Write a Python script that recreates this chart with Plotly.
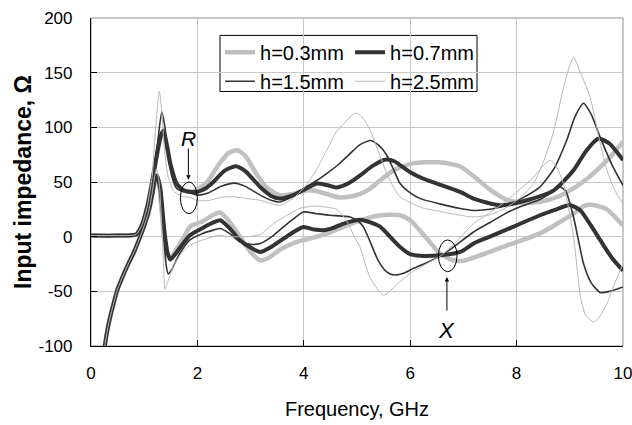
import plotly.graph_objects as go

# ---------------- data ----------------
# h = 0.3 mm
f03_R = [0, 0.5, 0.85, 0.95, 1.05, 1.15, 1.25, 1.33, 1.38, 1.44, 1.5, 1.6, 1.7, 1.85, 2.0, 2.2, 2.4, 2.6, 2.75, 2.9, 3.1, 3.3, 3.55, 3.8, 4.0, 4.2, 4.43, 4.65, 4.85, 5.05, 5.25, 5.45, 5.7, 6.05, 6.55, 6.95, 7.2, 7.5, 7.8, 8.1, 8.45, 8.8, 9.1, 9.35, 9.6, 9.8, 10]
R03 = [1, 1, 2, 10, 26, 50, 78, 92, 93, 80, 64, 49, 43, 41, 43, 51, 66, 77, 79, 74, 58, 45, 38, 39, 42, 42, 39, 36, 36.5, 39, 44, 52, 61, 67, 68, 64, 55, 43, 34, 31, 32, 37, 45, 54, 65, 75, 87]
f03_X = [0.2, 0.26, 0.33, 0.42, 0.5, 0.6, 0.7, 0.8, 0.9, 1.0, 1.08, 1.15, 1.2, 1.24, 1.29, 1.36, 1.42, 1.5, 1.6, 1.75, 1.86, 2.1, 2.3, 2.43, 2.6, 2.8, 3.0, 3.18, 3.35, 3.55, 3.8, 4.0, 4.25, 4.5, 4.75, 5.06, 5.44, 5.81, 6.0, 6.31, 6.56, 6.81, 7.0, 7.32, 7.82, 8.44, 9.07, 9.26, 9.44, 9.7, 10]
X03 = [-135, -100, -80, -62, -48, -36, -25, -15, -3, 10, 22, 38, 50, 54, 44, 5, -15, -19, -12, 0, 9, 14, 20, 22, 14, 0, -14, -21.6, -19, -12, -6, -3, 0, 4, 9, 15, 19.6, 19.6, 15, -1.5, -15.5, -21.6, -22, -17, -8, 3, 21, 28, 29, 25, 10]

# h = 0.7 mm
f07_R = [0, 0.5, 0.85, 0.95, 1.05, 1.15, 1.25, 1.31, 1.36, 1.42, 1.49, 1.61, 1.74, 1.86, 2.0, 2.15, 2.3, 2.5, 2.72, 2.9, 3.18, 3.4, 3.55, 3.8, 3.99, 4.24, 4.45, 4.62, 4.85, 5.06, 5.3, 5.55, 5.7, 6.0, 6.25, 6.5, 6.94, 7.19, 7.69, 8.19, 8.7, 9.07, 9.3, 9.54, 9.75, 10]
R07 = [1, 1, 2, 10, 26, 50, 78, 92, 97, 85, 67, 48.6, 42.4, 41, 41, 44, 50, 60, 64.5, 60, 45.5, 37, 34.8, 38, 42.4, 48.6, 47, 45, 49, 56, 65, 70.5, 69, 59, 53, 48.6, 41, 34.8, 28.7, 33.3, 42.4, 60.7, 78, 89.7, 85, 70]
f07_X = [0.2, 0.26, 0.33, 0.42, 0.5, 0.6, 0.7, 0.8, 0.9, 1.0, 1.08, 1.15, 1.2, 1.24, 1.3, 1.38, 1.44, 1.49, 1.6, 1.75, 1.86, 2.1, 2.3, 2.43, 2.6, 2.8, 3.0, 3.18, 3.4, 3.62, 3.8, 3.99, 4.2, 4.37, 4.55, 4.75, 5.06, 5.25, 5.44, 5.62, 5.81, 6.0, 6.19, 6.56, 6.94, 7.2, 7.5, 8.0, 8.44, 8.75, 9.0, 9.2, 9.4, 9.57, 9.8, 10]
X07 = [-135, -100, -80, -62, -48, -36, -25, -15, -3, 10, 22, 38, 52, 56, 45, 5, -15, -21, -15, -5, 1.3, 8, 13, 15, 8, -3.3, -10, -14, -9, -1.8, 4, 8.9, 6.5, 5.9, 8, 12, 15.5, 13, 8.9, 0, -9.4, -16, -17.5, -17, -14, -6, 0, 10.4, 19.6, 25, 29, 24, 10, -3, -20, -31]

# h = 1.5 mm
f15_R = [0, 0.5, 0.85, 0.95, 1.05, 1.15, 1.25, 1.33, 1.39, 1.45, 1.52, 1.61, 1.74, 1.86, 2.0, 2.2, 2.45, 2.7, 2.9, 3.18, 3.4, 3.55, 3.8, 3.99, 4.2, 4.43, 4.65, 4.87, 5.05, 5.25, 5.4, 5.56, 5.7, 5.81, 6.0, 6.19, 6.56, 6.94, 7.19, 7.5, 7.82, 8.1, 8.44, 8.7, 8.94, 9.1, 9.26, 9.4, 9.57, 9.8, 10]
R15 = [1, 1, 2, 10, 26, 50, 85, 114, 100, 75, 55, 44, 41, 40, 38, 40, 46, 49, 46, 38, 33, 31.7, 37, 44, 50, 57.7, 66, 76, 84, 88, 84, 74.5, 60, 48.6, 40, 34.8, 30, 25.7, 24, 25, 28.7, 35, 45.5, 62, 88, 110, 122, 112, 91, 65, 47]
f15_X = [0.2, 0.26, 0.33, 0.42, 0.5, 0.6, 0.7, 0.8, 0.9, 1.0, 1.08, 1.15, 1.2, 1.24, 1.3, 1.37, 1.41, 1.45, 1.52, 1.65, 1.86, 2.1, 2.3, 2.43, 2.6, 2.8, 3.0, 3.18, 3.4, 3.62, 3.8, 3.99, 4.25, 4.49, 4.87, 5.0, 5.12, 5.25, 5.4, 5.55, 5.69, 5.9, 6.06, 6.3, 6.56, 6.8, 7.19, 7.5, 7.82, 8.1, 8.44, 8.65, 8.81, 8.92, 9.07, 9.17, 9.26, 9.4, 9.57, 9.75, 10]
X15 = [-135, -100, -80, -62, -48, -36, -25, -15, -3, 10, 22, 38, 52, 56, 42, 0, -25, -34, -30, -17, -3, 3, 6, 7.4, 3, -4.8, -7, -6.3, 0, 9, 16, 22.6, 21, 19.6, 18, 15, 9, -5, -22, -32, -35, -33, -29, -24, -18, -10, 4.3, 13, 22, 28, 34, 40, 45.5, 42, 18, -5, -25, -42, -51, -50, -46]

# h = 2.5 mm
f25_R = [0, 0.5, 0.85, 0.95, 1.05, 1.15, 1.2, 1.285, 1.33, 1.38, 1.45, 1.55, 1.7, 1.86, 2.0, 2.2, 2.45, 2.7, 2.9, 3.18, 3.55, 3.8, 3.99, 4.2, 4.43, 4.6, 4.75, 4.9, 5.0, 5.12, 5.25, 5.4, 5.56, 5.7, 5.81, 6.19, 6.56, 6.94, 7.19, 7.5, 7.82, 8.1, 8.32, 8.5, 8.7, 8.9, 9.07, 9.2, 9.38, 9.55, 9.7, 9.85, 10]
R25 = [1, 1, 2, 10, 26, 55, 90, 133, 115, 80, 55, 42, 37, 36, 33, 33, 36, 36.5, 35, 33.3, 28.7, 35, 44, 58, 79, 95, 103.4, 111, 113, 108, 97, 78, 57.7, 44, 36.3, 27, 23, 19.6, 18, 20, 27, 37, 48.6, 68, 97, 140, 164, 150, 128, 90, 60.7, 42, 30]
f25_X = [0.2, 0.26, 0.33, 0.42, 0.5, 0.6, 0.7, 0.8, 0.9, 1.0, 1.08, 1.15, 1.2, 1.23, 1.28, 1.33, 1.36, 1.39, 1.45, 1.55, 1.7, 1.86, 2.1, 2.3, 2.43, 2.6, 2.93, 3.18, 3.43, 3.7, 3.93, 4.2, 4.43, 4.62, 4.8, 4.95, 5.06, 5.25, 5.5, 5.7, 6.0, 6.3, 6.56, 6.8, 7.19, 7.5, 7.82, 8.1, 8.32, 8.5, 8.63, 8.75, 8.88, 9.0, 9.07, 9.14, 9.2, 9.3, 9.45, 9.58, 9.7, 9.85, 10]
X25 = [-135, -100, -80, -62, -48, -36, -25, -15, -3, 10, 22, 40, 56, 62, 50, 10, -20, -48, -40, -27, -15, -8, -3, 0, 1.3, 0, 0, 2, 12, 20, 26, 28, 27, 25, 15, 0, -10, -38, -53.6, -46, -33.5, -25, -18, -8, 12, 22, 33.3, 45, 54.6, 65, 70, 64, 48.6, 20, 0, -30, -55, -72, -78, -72, -61, -42, -25]

x_ticks = [0, 2, 4, 6, 8, 10]
x_labels = ["0", "2", "4", "6", "8", "10"]
y_ticks = [-100, -50, 0, 50, 100, 150, 200]
y_labels = ["-100", "-50", "0", "50", "100", "150", "200"]

# ---------------- figure ----------------
LIGHT = "#c0c0c0"
DARK = "#333333"
FONT = "Liberation Sans, Arial, sans-serif"

series = [
    ("h=0.3mm", f03_R, R03, f03_X, X03, LIGHT, 4.5, "legend"),
    ("h=0.7mm", f07_R, R07, f07_X, X07, DARK, 4.0, "legend2"),
    ("h=1.5mm", f15_R, R15, f15_X, X15, DARK, 1.6, "legend"),
    ("h=2.5mm", f25_R, R25, f25_X, X25, "#b8b8b8", 1.0, "legend2"),
]

fig = go.Figure()
for name, fr, r, fx, xv, col, w, lg in series:
    fig.add_trace(go.Scatter(x=fr, y=r, mode="lines", name=name, legendgroup=name,
                             legend=lg, line=dict(color=col, width=w, shape="spline", smoothing=0.6)))
    fig.add_trace(go.Scatter(x=fx, y=xv, mode="lines", name=name, legendgroup=name,
                             legend=lg, showlegend=False,
                             line=dict(color=col, width=w, shape="spline", smoothing=0.6)))

axis_common = dict(showgrid=True, gridcolor="#c8c8c8", gridwidth=1, zeroline=False,
                   ticks="inside", ticklen=6, tickcolor="black", showline=True,
                   linecolor="black", linewidth=1.2, automargin=False,
                   ticklabeloverflow="allow",
                   tickfont=dict(family=FONT, size=17, color="black"))

fig.update_xaxes(range=[0, 10], tickvals=x_ticks, ticktext=x_labels, ticklabelstandoff=11, **axis_common,
                 title=dict(text="Frequency, GHz", font=dict(family=FONT, size=20, color="black"), standoff=20))
fig.update_yaxes(range=[-100, 200], tickvals=y_ticks, ticktext=y_labels, ticklabelstandoff=14, **axis_common,
                 title=dict(text="<b>Input impedance, Ω</b>", font=dict(family=FONT, size=23, color="black"), standoff=0))

# plot-area frame (top/right in gray)
fig.add_shape(type="rect", xref="paper", yref="paper", x0=0, x1=1, y0=0, y1=1,
              line=dict(color="#909090", width=1), layer="below")

# ellipses
fig.add_shape(type="circle", xref="x", yref="y", x0=1.68, x1=2.0, y0=21, y1=50,
              line=dict(color="black", width=1))
fig.add_shape(type="circle", xref="x", yref="y", x0=6.53, x1=6.88, y0=-32, y1=-3,
              line=dict(color="black", width=1))

# arrows and labels
fig.add_annotation(x=1.83, y=52, ax=1.83, ay=82, xref="x", yref="y", axref="x", ayref="y",
                   showarrow=True, arrowhead=2, arrowsize=0.9, arrowwidth=1, arrowcolor="black", text="")
fig.add_annotation(x=6.69, y=-37, ax=6.69, ay=-69, xref="x", yref="y", axref="x", ayref="y",
                   showarrow=True, arrowhead=2, arrowsize=0.9, arrowwidth=1, arrowcolor="black", text="")
fig.add_annotation(x=1.83, y=90, xref="x", yref="y", text="<i>R</i>", showarrow=False,
                   font=dict(family=FONT, size=21, color="black"))
fig.add_annotation(x=6.69, y=-86, xref="x", yref="y", text="<i>X</i>", showarrow=False,
                   font=dict(family=FONT, size=22, color="black"))

# legend frame
fig.add_shape(type="rect", xref="paper", yref="paper", x0=0.2425, x1=0.7256, y0=0.776, y1=0.947,
              line=dict(color="black", width=1), fillcolor="white", layer="below")

leg_common = dict(font=dict(family=FONT, size=20, color="black"), bgcolor="rgba(0,0,0,0)",
                  borderwidth=0, yanchor="top", xanchor="left", tracegroupgap=0, itemwidth=30)
fig.update_layout(
    legend=dict(x=0.2425, y=0.955, **leg_common),
    legend2=dict(x=0.487, y=0.955, **leg_common),
    width=632, height=425,
    margin=dict(l=91, r=9, t=18, b=79),
    paper_bgcolor="white", plot_bgcolor="white",
)

fig.write_html("out.html", config={"displayModeBar": False},
               post_script="document.body.style.margin='0px';")
